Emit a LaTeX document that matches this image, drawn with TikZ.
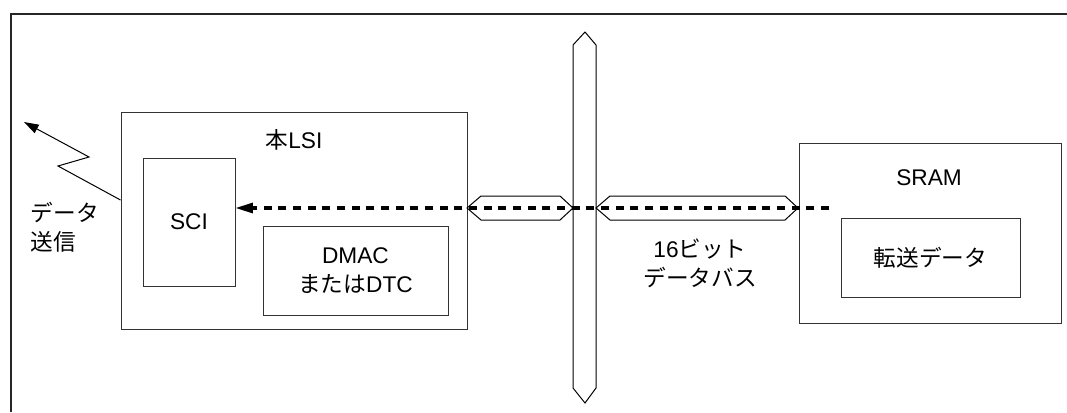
\documentclass[tikz,border=0pt]{standalone}
\usepackage{fontspec}
\setmainfont{Liberation Sans}
\newfontfamily\jp{Noto Sans CJK JP}
\usetikzlibrary{arrows.meta,positioning,calc}
\newcommand{\pxu}{0.75pt}

\begin{document}
\begin{tikzpicture}[
  x=0.75pt, y=-0.75pt,
  frame/.style={line width=0.8pt, black!85},
  box/.style={draw=black!80, line width=0.75pt, inner sep=0pt, align=center},
  bus/.style={draw=black, fill=white, line width=0.75pt, line join=miter},
  flow/.style={line width=2.3pt, dash pattern=on 6pt off 5pt,
               -{Triangle[length=13pt,width=7.5pt]}},
  radio/.style={line width=0.75pt, -{Triangle[length=11pt,width=7pt]}},
  every node/.style={font=\fontsize{17}{22}\selectfont}]

\useasboundingbox (0,0) rectangle (1067,412);

% ---- outer frame --------------------------------------------------------
\draw[frame] (11,412) -- (11,14) -- (1067,14);

% ---- this LSI -----------------------------------------------------------
\node[box, minimum width=346*\pxu, minimum height=217*\pxu] (lsi) at (294,220.5) {};
\node (lsilab) at (294,140) {{\jp 本}LSI};
\node[box, minimum width=92*\pxu, minimum height=128*\pxu] (sci) at (189,222) {SCI};
\node[box, minimum width=185*\pxu, minimum height=89*\pxu] (dmac) at (355.5,270.5)
      {DMAC\\{\jp または}DTC};

% ---- SRAM ---------------------------------------------------------------
\node[box, minimum width=262*\pxu, minimum height=180*\pxu] (sram) at (930,233) {};
\node (sramlab) at (929,178) {SRAM};
\node[box, minimum width=179*\pxu, minimum height=79*\pxu] (xfer) at (930.5,257.5)
      {{\jp 転送データ}};

% ---- the 16 bit data bus ------------------------------------------------
\draw[bus] (585,32) -- (596,45) -- (596,388) -- (585,403) -- (573,388) -- (573,45) -- cycle;
\draw[bus] (467,208) -- (481,196) -- (560,196) -- (573,208) -- (560,220) -- (481,220) -- cycle;
\draw[bus] (596,208) -- (610,196) -- (785,196) -- (798,208) -- (785,220) -- (610,220) -- cycle;
\node (buslab) at (700,263) [align=center] {16{\jp ビット}\\{\jp データバス}};

% ---- transfer path: SRAM -> bus -> SCI ----------------------------------
\coordinate (src) at (829,208);
\draw[flow] (src) -- (src -| sci.east);

% ---- serial output ------------------------------------------------------
\coordinate (txout) at (lsi.west |- 0,200);
\coordinate (air)   at (24,122);
\draw[radio] (txout) -- (58,166) -- (89,157) -- (air);
\node[anchor=west, align=left] (txlab) at (26,227) {{\jp データ}\\{\jp 送信}};

\end{tikzpicture}
\end{document}
